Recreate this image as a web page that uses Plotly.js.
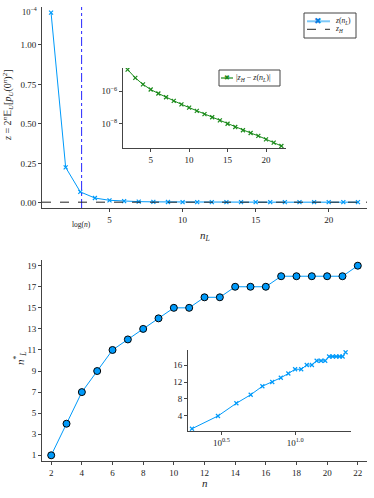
<!DOCTYPE html>
<html>
<head>
<meta charset="utf-8">
<script src="https://cdn.plot.ly/plotly-3.0.1.min.js"></script>
<style>
  html, body { margin: 0; padding: 0; background: #fff; }
  #chart { width: 374px; height: 498px; }
</style>
</head>
<body>
<div id="chart"></div>
<script>
// ---- data ----
// top panel: z(n_L), values in units of 1e-4
const nL = [1, 2, 3, 4, 5, 6, 7, 8, 9, 10, 11, 12, 13, 14, 15, 16, 17, 18, 19, 20, 21, 22];
const zVals = [1.204, 0.225, 0.070, 0.031, 0.0167, 0.0112, 0.0083, 0.0067, 0.0059, 0.0054, 0.0051,
               0.0050, 0.0049, 0.00485, 0.0048, 0.0048, 0.0048, 0.0048, 0.0048, 0.0048, 0.0048, 0.0048];
const zH = 0.0048;
const logN = Math.log(22);

// top inset: |z_H - z(n_L)|
const nLInset = [2, 3, 4, 5, 6, 7, 8, 9, 10, 11, 12, 13, 14, 15, 16, 17, 18, 19, 20, 21, 22];
const zDiff = [2.1e-5, 6.5e-6, 2.6e-6, 1.26e-6, 7.2e-7, 4.2e-7, 2.5e-7, 1.55e-7, 9.8e-8, 6.2e-8, 3.9e-8,
               2.5e-8, 1.6e-8, 1.0e-8, 6.3e-9, 4.0e-9, 2.7e-9, 1.8e-9, 1.1e-9, 6.9e-10, 4.3e-10];

// bottom panel: optimal n_L* vs n
const nVals = [2, 3, 4, 5, 6, 7, 8, 9, 10, 11, 12, 13, 14, 15, 16, 17, 18, 19, 20, 21, 22];
const nStar = [1, 4, 7, 9, 11, 12, 13, 14, 15, 15, 16, 16, 17, 17, 17, 18, 18, 18, 18, 18, 19];

const legendMain = ['<i>z</i>(<i>n<sub>L</sub></i>)', '<i>z<sub>H</sub></i>'];
const legendInset = '|<i>z<sub>H</sub></i> − <i>z</i>(<i>n<sub>L</sub></i>)|';

const BLUE = '#009AFA';
const GREEN = '#1a8a1a';
const INK = '#222';
const FONT = 'Liberation Serif';

// pixel -> paper helpers (page is 374x498, zero margins)
const W = 374, H = 498;
const px = v => v / W;
const py = v => 1 - v / H;

const baseAxis = {
  showgrid: false,
  zeroline: false,
  showline: true,
  linecolor: '#444',
  linewidth: 1,
  ticks: 'outside',
  ticklen: 3,
  tickcolor: '#444',
  tickfont: { family: FONT, size: 9, color: INK },
  automargin: false
};

function label(text, x, y, size, extra) {
  return Object.assign({
    xref: 'paper', yref: 'paper', x: x, y: y, text: text, showarrow: false,
    xanchor: 'center', yanchor: 'middle',
    font: { family: FONT, size: size, color: INK }
  }, extra || {});
}

// paper-space line / box for hand drawn legends
function pline(x0, y0, x1, y1, color, width, dash) {
  return { type: 'line', xref: 'paper', yref: 'paper',
           x0: px(x0), y0: py(y0), x1: px(x1), y1: py(y1),
           line: { color: color, width: width, dash: dash || 'solid' } };
}
function pbox(x0, y0, x1, y1) {
  return { type: 'rect', xref: 'paper', yref: 'paper',
           x0: px(x0), y0: py(y1), x1: px(x1), y1: py(y0),
           fillcolor: '#fff', line: { color: '#444', width: 1 } };
}

const traces = [
  {
    x: nL, y: zVals, type: 'scatter', mode: 'lines+markers',
    line: { color: BLUE, width: 1 },
    marker: { symbol: 'x-thin', size: 4, color: BLUE, line: { color: BLUE, width: 1.2 } },
    xaxis: 'x', yaxis: 'y'
  },
  {
    x: nLInset, y: zDiff, type: 'scatter', mode: 'lines+markers',
    line: { color: GREEN, width: 1 },
    marker: { symbol: 'x-thin', size: 4, color: GREEN, line: { color: GREEN, width: 1.2 } },
    xaxis: 'x2', yaxis: 'y2'
  },
  {
    x: nVals, y: nStar, type: 'scatter', mode: 'lines+markers',
    line: { color: BLUE, width: 1 },
    marker: { symbol: 'circle', size: 7, color: BLUE, line: { color: '#000', width: 1 } },
    xaxis: 'x3', yaxis: 'y3'
  },
  {
    x: nVals, y: nStar, type: 'scatter', mode: 'lines+markers',
    line: { color: BLUE, width: 1 },
    marker: { symbol: 'x-thin', size: 4, color: BLUE, line: { color: BLUE, width: 1.2 } },
    xaxis: 'x4', yaxis: 'y4'
  }
];

const layout = {
  width: W, height: H,
  margin: { l: 0, r: 0, t: 0, b: 0 },
  showlegend: false,
  paper_bgcolor: '#fff',
  plot_bgcolor: 'rgba(0,0,0,0)',
  font: { family: FONT, color: INK },
  xaxis: Object.assign({}, baseAxis, {
    domain: [px(42), px(367)], anchor: 'y', range: [0.38, 22.62],
    tickvals: [5, 10, 15, 20]
  }),
  yaxis: Object.assign({}, baseAxis, {
    domain: [py(208), py(7)], anchor: 'x', range: [-0.032, 1.24],
    tickvals: [0, 0.25, 0.5, 0.75, 1.0], tickformat: '.2f'
  }),
  xaxis2: Object.assign({}, baseAxis, {
    domain: [px(123), px(286)], anchor: 'y2', range: [1.4, 22.6],
    tickvals: [5, 10, 15, 20]
  }),
  yaxis2: Object.assign({}, baseAxis, {
    domain: [py(148), py(68)], anchor: 'x2', type: 'log', range: [-9.49, -4.58],
    tickvals: [1e-8, 1e-6], ticktext: ['10<sup>−8</sup>', '10<sup>−6</sup>']
  }),
  xaxis3: Object.assign({}, baseAxis, {
    domain: [px(42), px(367)], anchor: 'y3', range: [1.4, 22.6],
    tickvals: [2, 4, 6, 8, 10, 12, 14, 16, 18, 20, 22]
  }),
  yaxis3: Object.assign({}, baseAxis, {
    domain: [py(461), py(260)], anchor: 'x3', range: [0.46, 19.54],
    tickvals: [1, 3, 5, 7, 9, 11, 13, 15, 17, 19]
  }),
  xaxis4: Object.assign({}, baseAxis, {
    domain: [px(188), px(351)], anchor: 'y4', type: 'log', range: [0.274, 1.379],
    tickvals: [Math.pow(10, 0.5), 10], ticktext: ['10<sup>0.5</sup>', '10<sup>1.0</sup>']
  }),
  yaxis4: Object.assign({}, baseAxis, {
    domain: [py(431), py(350)], anchor: 'x4', range: [0.46, 19.54],
    tickvals: [4, 8, 12, 16]
  }),
  shapes: [
    // log(n) marker and z_H reference line
    {
      type: 'line', xref: 'x', yref: 'y domain', x0: logN, x1: logN, y0: 0, y1: 1,
      line: { color: '#2626ff', width: 1, dash: 'dashdot' }
    },
    {
      type: 'line', xref: 'x domain', yref: 'y', x0: 0, x1: 1, y0: zH, y1: zH,
      line: { color: INK, width: 1, dash: 'dash' }
    },
    // main legend
    pbox(304, 13, 356, 38),
    pline(307, 21.3, 330, 21.3, '#7cc8f8', 2),
    pline(307, 29.3, 330, 29.3, INK, 1, 'dash'),
    // inset legend
    pbox(219, 70, 280, 86),
    pline(221, 78, 233, 78, GREEN, 1.2)
  ],
  annotations: [
    label('10<sup>−4</sup>', px(29), py(12), 8.5),
    label('<i>z</i> = 2<sup><i>n</i></sup>𝔼<sub><i>U</i></sub>[<i>p<sub>U</sub></i>(0<sup><i>n</i></sup>)<sup>2</sup>]',
          px(8), py(105), 10, { textangle: -90 }),
    label('log(<i>n</i>)', logN, py(224), 7.5, { xref: 'x' }),
    label('<i>n<sub>L</sub></i>', px(205), py(236), 11),
    label('<i>n</i><sup>*</sup><sub><i>L</i></sub>', px(20), py(358), 11, { textangle: -90 }),
    label('<i>n</i>', px(205), py(483), 11),
    // legend glyphs and texts
    label('✖', px(318.3), py(21.3), 9, { font: { family: 'DejaVu Sans', size: 9, color: '#0a7fe0' } }),
    label(legendMain[0], px(333), py(21.3), 7.5, { xanchor: 'left' }),
    label(legendMain[1], px(333), py(29.3), 7.5, { xanchor: 'left' }),
    label('✖', px(227), py(78), 7, { font: { family: 'DejaVu Sans', size: 7, color: GREEN } }),
    label(legendInset, px(234), py(78), 8, { xanchor: 'left' })
  ]
};

Plotly.newPlot('chart', traces, layout, { displayModeBar: false, staticPlot: true });
</script>
</body>
</html>
